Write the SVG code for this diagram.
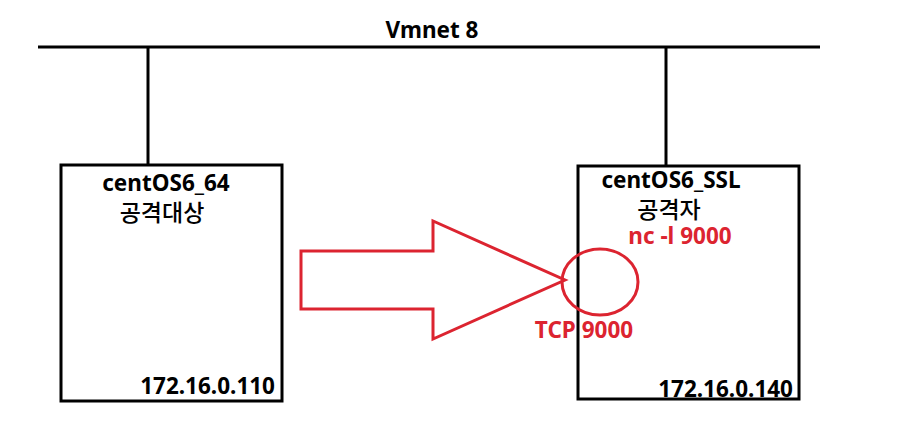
<svg xmlns="http://www.w3.org/2000/svg" width="897" height="436" viewBox="0 0 897 436">
<style>
.ln{stroke:#000;stroke-width:3;fill:none}
.box{stroke:#000;stroke-width:3;fill:#fff}
.t{font-family:"Noto Sans","Noto Sans CJK KR",sans-serif;font-weight:bold;font-size:22.5px;fill:#000}
.k{font-family:"Noto Sans CJK KR",sans-serif;font-weight:500;font-size:23px;fill:#000}
.r{fill:#dc2430}
.red{stroke:#dc2430;stroke-width:3;fill:none}
</style>
<rect width="897" height="436" fill="#fff"/>
<g id="connectors">
<line class="ln" x1="38" y1="47" x2="820" y2="47"/>
<line class="ln" x1="148" y1="47" x2="148" y2="165"/>
<line class="ln" x1="666" y1="47" x2="666" y2="166"/>
</g>
<text class="t" x="432" y="38" text-anchor="middle">Vmnet 8</text>
<g id="node-target">
<rect class="box" x="61" y="165" width="221" height="236"/>
<text class="t" x="166" y="191" text-anchor="middle">centOS6_64</text>
<text class="k" x="162" y="221" text-anchor="middle">공격대상</text>
<text class="t" x="275" y="394" text-anchor="end">172.16.0.110</text>
</g>
<g id="node-attacker">
<rect class="box" x="578" y="166" width="221" height="233"/>
<text class="t" x="671" y="188" text-anchor="middle">centOS6_SSL</text>
<text class="k" x="669" y="218" text-anchor="middle">공격자</text>
<text class="t" x="793" y="397" text-anchor="end">172.16.0.140</text>
</g>
<g id="arrow">
<polygon class="red" points="301,251 433,251 433,221 565,280 433,339 433,309 301,309"/>
</g>
<g id="port">
<ellipse class="red" cx="600" cy="282" rx="38" ry="33"/>
<text class="t r" x="680" y="244" text-anchor="middle">nc -l 9000</text>
<text class="t r" x="584" y="338" text-anchor="middle">TCP 9000</text>
</g>
</svg>
